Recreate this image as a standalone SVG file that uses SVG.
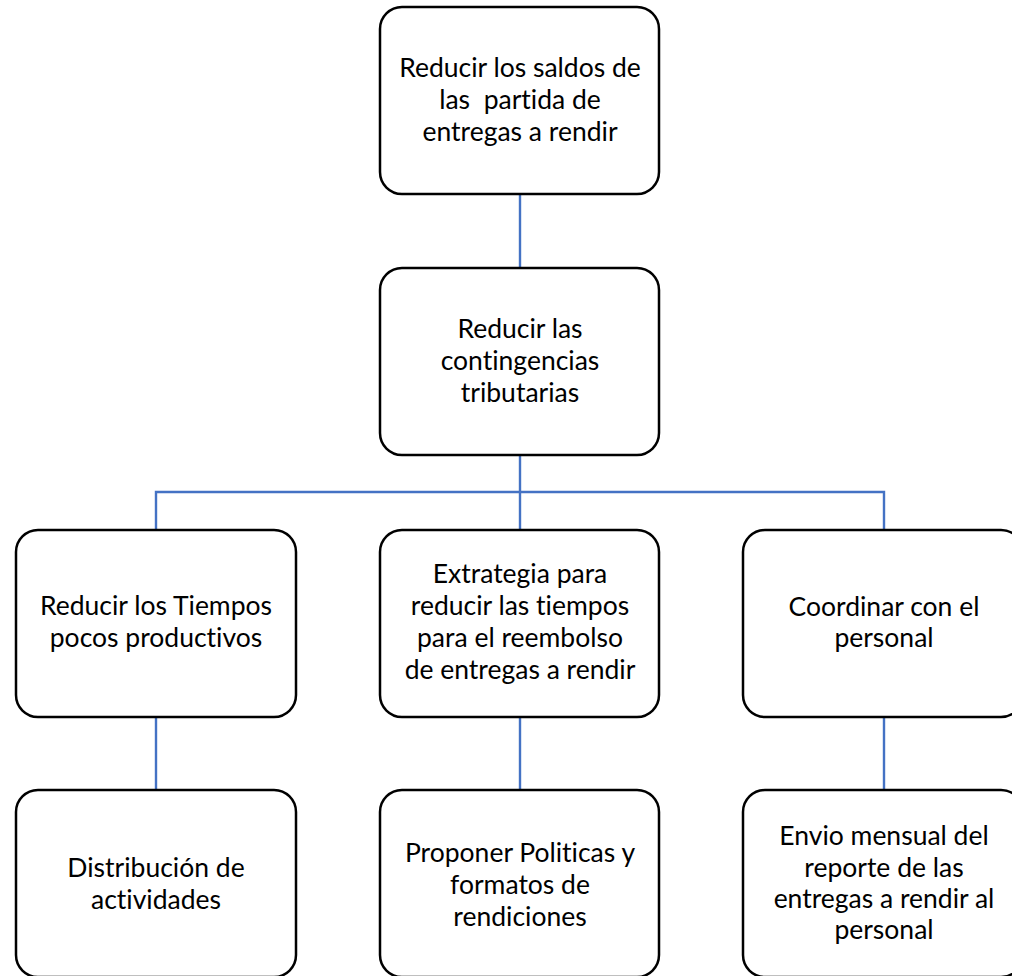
<svg xmlns="http://www.w3.org/2000/svg" width="1012" height="976" viewBox="0 0 1012 976">
<style>
.box{fill:#fff;stroke:#000;stroke-width:2.5}
.lbl{font-family:Lato,"Open Sans","Liberation Sans",sans-serif;font-size:26.5px;fill:#000;text-anchor:middle;font-variant-ligatures:none;white-space:pre}
.conn{stroke:#4472C4;stroke-width:2.4;fill:none}
</style>
<rect width="1012" height="976" fill="#fff"/>
<g id="connectors">
<line class="conn" x1="520" y1="194" x2="520" y2="268"/>
<line class="conn" x1="520" y1="455" x2="520" y2="530"/>
<polyline class="conn" points="156,530 156,492 884,492 884,530"/>
<line class="conn" x1="156" y1="717" x2="156" y2="790"/>
<line class="conn" x1="520" y1="717" x2="520" y2="790"/>
<line class="conn" x1="884" y1="717" x2="884" y2="790"/>
</g>
<g id="n1">
<rect class="box" x="380" y="7" width="279" height="187" rx="22"/>
<text class="lbl" xml:space="preserve"><tspan x="520" y="76.5">Reducir los saldos de</tspan><tspan x="520" y="108.5">las  partida de</tspan><tspan x="520" y="140.5">entregas a rendir</tspan></text>
</g>
<g id="n2">
<rect class="box" x="380" y="268" width="279" height="187" rx="22"/>
<text class="lbl"><tspan x="520" y="338">Reducir las</tspan><tspan x="520" y="370">contingencias</tspan><tspan x="520" y="402">tributarias</tspan></text>
</g>
<g id="n3">
<rect class="box" x="16" y="530" width="280" height="187" rx="22"/>
<text class="lbl"><tspan x="156" y="615">Reducir los Tiempos</tspan><tspan x="156" y="647">pocos productivos</tspan></text>
</g>
<g id="n4">
<rect class="box" x="380" y="530" width="279" height="187" rx="22"/>
<text class="lbl"><tspan x="520" y="583">Extrategia para</tspan><tspan x="520" y="615">reducir las tiempos</tspan><tspan x="520" y="647">para el reembolso</tspan><tspan x="520" y="679">de entregas a rendir</tspan></text>
</g>
<g id="n5">
<rect class="box" x="743" y="530" width="280" height="187" rx="22"/>
<text class="lbl"><tspan x="884" y="615.5">Coordinar con el</tspan><tspan x="884" y="647">personal</tspan></text>
</g>
<g id="n6">
<rect class="box" x="16" y="790" width="280" height="187" rx="22"/>
<text class="lbl"><tspan x="156" y="877">Distribución de</tspan><tspan x="156" y="908.5">actividades</tspan></text>
</g>
<g id="n7">
<rect class="box" x="380" y="790" width="279" height="187" rx="22"/>
<text class="lbl"><tspan x="520" y="862">Proponer Politicas y</tspan><tspan x="520" y="893.5">formatos de</tspan><tspan x="520" y="925.5">rendiciones</tspan></text>
</g>
<g id="n8">
<rect class="box" x="743" y="790" width="280" height="187" rx="22"/>
<text class="lbl"><tspan x="884" y="845">Envio mensual del</tspan><tspan x="884" y="876.5">reporte de las</tspan><tspan x="884" y="908">entregas a rendir al</tspan><tspan x="884" y="938.5">personal</tspan></text>
</g>
</svg>
